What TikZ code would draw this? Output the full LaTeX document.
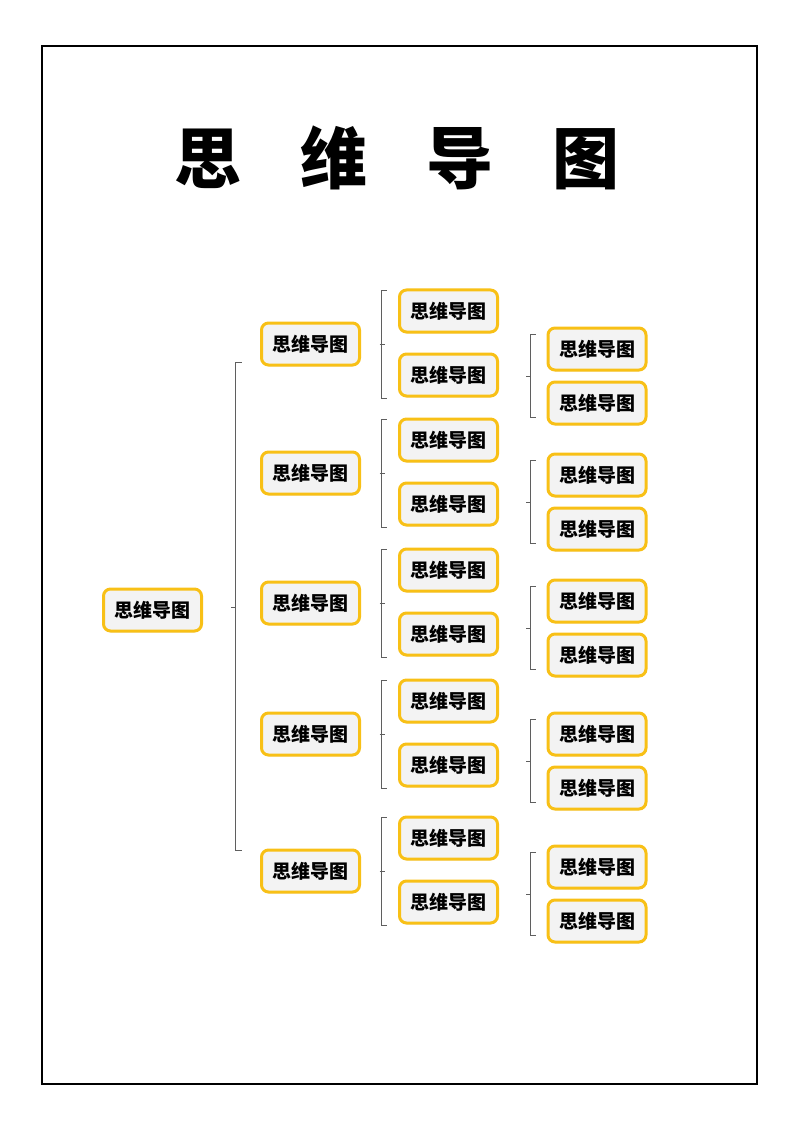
\documentclass[tikz,border=0pt]{standalone}
\usepackage{fontspec}
\newfontfamily\cjk{Noto Sans CJK SC}
\usetikzlibrary{calc,shadows}
\definecolor{boxyellow}{RGB}{248,192,22}
\definecolor{boxfill}{RGB}{243,243,243}
\definecolor{brkgray}{RGB}{95,95,95}
\tikzset{
  box/.style={draw=boxyellow,fill=boxfill,line width=3pt,rounded corners=7pt,
    minimum width=98pt,minimum height=42pt,inner sep=0pt,
    font=\cjk\bfseries\fontsize{19}{19}\selectfont,
    drop shadow={shadow xshift=0pt,shadow yshift=-1.5pt,opacity=.12}},
  brk/.style={draw=brkgray,line width=.8pt}
}

\begin{document}
\begin{tikzpicture}[x=1pt,y=-1pt]
\useasboundingbox (0,0) rectangle (800,1131);
\draw[line width=2pt] (42,46) rectangle (757,1084);

\node (title) at (397,158) {\cjk\bfseries\fontsize{67}{67}\selectfont
  思\hspace{59pt}维\hspace{59pt}导\hspace{59pt}图};

% root and first level
\node[box] (root) at (152.5,610) {思维导图};
\node[box] (a1) at (310.5,344) {思维导图};
\node[box] (a2) at (310.5,473) {思维导图};
\node[box] (a3) at (310.5,603) {思维导图};
\node[box] (a4) at (310.5,734) {思维导图};
\node[box] (a5) at (310.5,871) {思维导图};

% second level
\node[box] (b11) at (448.5,311) {思维导图};
\node[box] (b12) at (448.5,375) {思维导图};
\node[box] (b21) at (448.5,440) {思维导图};
\node[box] (b22) at (448.5,504) {思维导图};
\node[box] (b31) at (448.5,570) {思维导图};
\node[box] (b32) at (448.5,634) {思维导图};
\node[box] (b41) at (448.5,701) {思维导图};
\node[box] (b42) at (448.5,765) {思维导图};
\node[box] (b51) at (448.5,838) {思维导图};
\node[box] (b52) at (448.5,902) {思维导图};

% third level
\node[box] (c11) at (597,349) {思维导图};
\node[box] (c12) at (597,403) {思维导图};
\node[box] (c21) at (597,475) {思维导图};
\node[box] (c22) at (597,529) {思维导图};
\node[box] (c31) at (597,601) {思维导图};
\node[box] (c32) at (597,655) {思维导图};
\node[box] (c41) at (597,734) {思维导图};
\node[box] (c42) at (597,788) {思维导图};
\node[box] (c51) at (597,867) {思维导图};
\node[box] (c52) at (597,921) {思维导图};

% root bracket
\draw[brk] ([shift={(-18.5,18)}]a1.west) -- ++(-6,0) |- ([shift={(-18.5,-21)}]a5.west);
\draw[brk] ($(a1.west)!.5!(a5.west)+(-24.5,0)$) -- ++(-5,0);

% second level brackets
\draw[brk] ([shift={(-11.5,-21)}]b11.west) -- ++(-5,0) |- ([shift={(-11.5,23)}]b12.west);
\draw[brk] ([shift={(18.5,0)}]a1.east) -- ++(5,0);
\draw[brk] ([shift={(-11.5,-21)}]b21.west) -- ++(-5,0) |- ([shift={(-11.5,23)}]b22.west);
\draw[brk] ([shift={(18.5,0)}]a2.east) -- ++(5,0);
\draw[brk] ([shift={(-11.5,-21)}]b31.west) -- ++(-5,0) |- ([shift={(-11.5,23)}]b32.west);
\draw[brk] ([shift={(18.5,0)}]a3.east) -- ++(5,0);
\draw[brk] ([shift={(-11.5,-21)}]b41.west) -- ++(-5,0) |- ([shift={(-11.5,23)}]b42.west);
\draw[brk] ([shift={(18.5,0)}]a4.east) -- ++(5,0);
\draw[brk] ([shift={(-11.5,-21)}]b51.west) -- ++(-5,0) |- ([shift={(-11.5,23)}]b52.west);
\draw[brk] ([shift={(18.5,0)}]a5.east) -- ++(5,0);

% third level brackets
\draw[brk] ([shift={(-11,-15)}]c11.west) -- ++(-5,0) |- ([shift={(-11,14)}]c12.west);
\draw[brk] ($(c11.west)!.5!(c12.west)+(-16,0)$) -- ++(-5,0);
\draw[brk] ([shift={(-11,-15)}]c21.west) -- ++(-5,0) |- ([shift={(-11,14)}]c22.west);
\draw[brk] ($(c21.west)!.5!(c22.west)+(-16,0)$) -- ++(-5,0);
\draw[brk] ([shift={(-11,-15)}]c31.west) -- ++(-5,0) |- ([shift={(-11,14)}]c32.west);
\draw[brk] ($(c31.west)!.5!(c32.west)+(-16,0)$) -- ++(-5,0);
\draw[brk] ([shift={(-11,-15)}]c41.west) -- ++(-5,0) |- ([shift={(-11,14)}]c42.west);
\draw[brk] ($(c41.west)!.5!(c42.west)+(-16,0)$) -- ++(-5,0);
\draw[brk] ([shift={(-11,-15)}]c51.west) -- ++(-5,0) |- ([shift={(-11,14)}]c52.west);
\draw[brk] ($(c51.west)!.5!(c52.west)+(-16,0)$) -- ++(-5,0);
\end{tikzpicture}
\end{document}
